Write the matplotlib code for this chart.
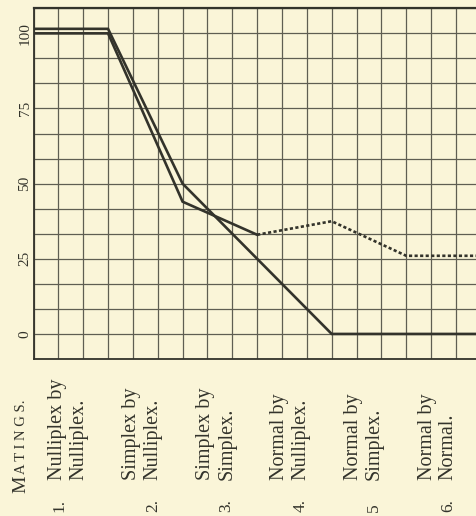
# -*- coding: utf-8 -*-
# Matings chart: percentages for six matings, redrawn from a scanned page

import numpy as np
import matplotlib.pyplot as plt
from matplotlib import transforms

# data (x = end of each mating, 0 = start of mating 1)
matings = ['Nulliplex by\nNulliplex.', 'Simplex by\nNulliplex.',
           'Simplex by\nSimplex.', 'Normal by\nNulliplex.',
           'Normal by\nSimplex.', 'Normal by\nNormal.']
numbers = ['1.', '2.', '3.', '4.', '5', '6.']
x_solid_a = [0, 1, 2, 3, 4, 5, 6]
y_solid_a = [101.5, 101.5, 50, 25, 0, 0, 0]
x_solid_b = [0, 1, 2, 3]
y_solid_b = [100, 100, 44, 33]
x_dotted = [3, 4, 5, 6]
y_dotted = [33, 37.5, 26, 26]
y_ticks = [0, 25, 50, 75, 100]

paper = '#faf5d8'
ink = '#33332b'
grid_col = '#5f5e52'
serif = ['Liberation Serif', 'DejaVu Serif']

fig = plt.figure(figsize=(4.76, 5.16), dpi=100, facecolor=paper)
W, H = 476, 516
sq = 100 / 12  # one grid square in percent
ax = fig.add_axes([33.5 / W, 1 - 359 / H, 447.3 / W, 350.7 / H])
ax.set_facecolor(paper)
ax.set_xlim(0, 6)
ax.set_ylim(-sq, 13 * sq)

# grid paper: 3 squares per mating, 3 squares per 25 %
ax.set_xticks(np.arange(0, 6.01, 1 / 3))
ax.set_yticks(np.arange(-sq, 13.01 * sq, sq))
ax.set_xticklabels([])
ax.set_yticklabels([])
ax.tick_params(length=0)
ax.grid(True, color=grid_col, lw=0.9)
ax.set_axisbelow(True)
for side in ['top', 'left', 'bottom', 'right']:
    ax.spines[side].set_color(ink)
ax.spines['top'].set_linewidth(1.6)
ax.spines['left'].set_linewidth(1.3)
ax.spines['bottom'].set_linewidth(1.3)

ax.plot(x_solid_a, y_solid_a, color=ink, lw=1.9, solid_joinstyle='miter')
ax.plot(x_solid_b, y_solid_b, color=ink, lw=1.9, solid_joinstyle='miter')
ax.plot(x_dotted, y_dotted, color=ink, lw=1.9, linestyle=(0, (1.2, 0.9)))

# y labels, turned on their side
ylab = transforms.blended_transform_factory(fig.transFigure, ax.transData)
for v in y_ticks:
    ax.text(25 / W, v, str(v), transform=ylab, rotation=90,
            ha='center', va='center', fontsize=11, family=serif, color=ink)

# labels under the chart
lab = transforms.blended_transform_factory(ax.transData, fig.transFigure)
fig.text(25 / W, 1 - 493 / H, 'M', rotation=90, rotation_mode='anchor',
         ha='left', va='baseline', fontsize=14, family=serif, color=ink)
fig.text(25 / W, 1 - 474.5 / H, 'A T I N G S.', rotation=90,
         rotation_mode='anchor', ha='left', va='baseline', fontsize=10.5,
         family=serif, color=ink)
for k, name in enumerate(matings):
    xc = k * 0.99 + 0.47
    ax.text(xc, 1 - 480 / H, name, transform=lab, rotation=90,
            rotation_mode='anchor', ha='left', va='center', fontsize=14.5,
            family=serif, color=ink, linespacing=1.15, clip_on=False)
    nx = xc - 0.12 if k == 0 else xc + 0.14
    ax.text(nx, 1 - 512 / H, numbers[k], transform=lab, rotation=90,
            rotation_mode='anchor', ha='left', va='center', fontsize=12.5,
            family=serif, color=ink, clip_on=False)

fig.savefig('out.png', dpi=100, facecolor=paper)
